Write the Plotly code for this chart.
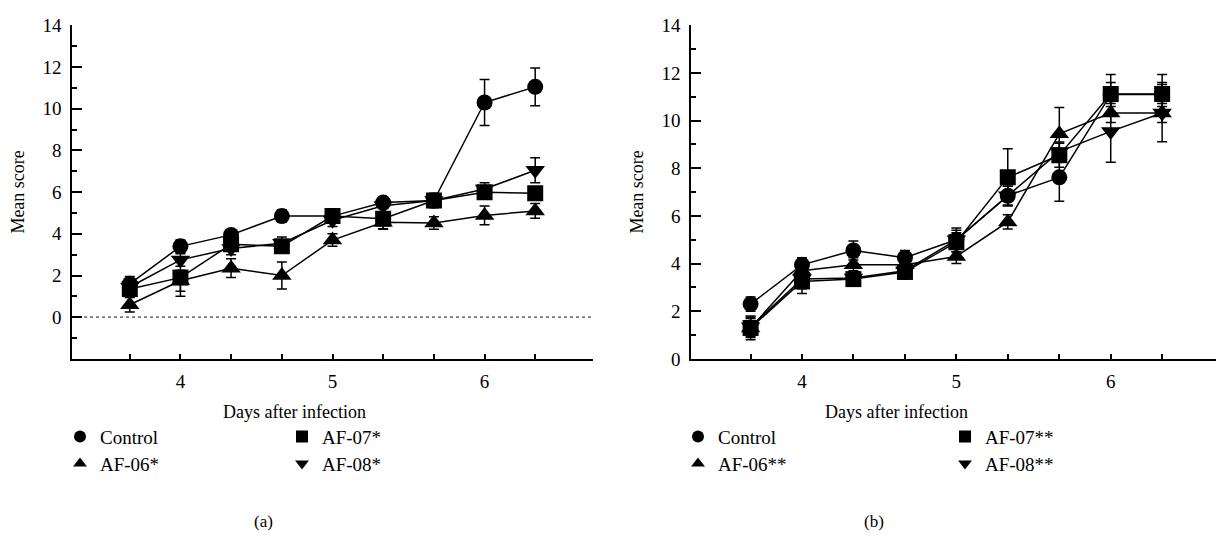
import plotly.graph_objects as go

# ---------------- data ----------------
days = [3.667, 4.0, 4.333, 4.667, 5.0, 5.333, 5.667, 6.0, 6.333]
day_tick_labels = ["", "4", "", "", "5", "", "", "6", ""]

# panel (a)
a_control = [1.6, 3.4, 3.95, 4.85, 4.85, 5.5, 5.6, 10.3, 11.05]
a_control_err = [0.35, 0.3, 0.2, 0.3, 0.2, 0.25, 0.2, 1.1, 0.9]
a_af06 = [0.6, 1.75, 2.35, 2.0, 3.7, 4.55, 4.52, 4.88, 5.1]
a_af06_err = [0.35, 0.5, 0.45, 0.65, 0.3, 0.3, 0.3, 0.45, 0.35]
a_af07 = [1.35, 1.9, 3.5, 3.4, 4.85, 4.72, 5.6, 6.0, 5.95]
a_af07_err = [0.3, 0.9, 0.3, 0.3, 0.3, 0.5, 0.35, 0.3, 0.3]
a_af08 = [1.45, 2.75, 3.3, 3.55, 4.65, 5.35, 5.6, 6.15, 7.05]
a_af08_err = [0.3, 0.3, 0.3, 0.3, 0.3, 0.3, 0.3, 0.3, 0.6]

# panel (b)
b_control = [2.3, 3.95, 4.55, 4.25, 5.0, 6.85, 7.62, 11.1, 11.1]
b_control_err = [0.3, 0.3, 0.4, 0.3, 0.5, 0.4, 1.0, 0.5, 0.5]
b_af06 = [1.3, 3.7, 3.95, 3.95, 4.3, 5.75, 9.45, 10.32, 10.32]
b_af06_err = [0.4, 0.4, 0.3, 0.3, 0.3, 0.3, 1.1, 0.4, 0.4]
b_af07 = [1.3, 3.25, 3.35, 3.65, 4.9, 7.62, 8.55, 11.12, 11.12]
b_af07_err = [0.5, 0.5, 0.3, 0.3, 0.4, 1.2, 0.5, 0.82, 0.82]
b_af08 = [1.35, 3.35, 3.4, 3.7, 5.0, 6.85, 8.7, 9.55, 10.32]
b_af08_err = [0.4, 0.4, 0.3, 0.3, 0.4, 0.4, 0.4, 1.3, 1.2]

a_names = ["Control", "AF-06*", "AF-07*", "AF-08*"]
b_names = ["Control", "AF-06**", "AF-07**", "AF-08**"]
y_ticks = [0, 2, 4, 6, 8, 10, 12, 14]
captions = ["(a)", "(b)"]
x_title = "Days after infection"
y_title = "Mean score"

# ---------------- layout helpers ----------------
W, H = 1216, 541
FONT = "Liberation Serif"
FS = 19


def fx(p):
    return p / W


def fy(p):
    return 1 - p / H


symbols = ["circle", "triangle-up", "square", "triangle-down"]
sizes = [16, 17, 16, 17]

fig = go.Figure()

panels = [
    (a_names, [a_control, a_af06, a_af07, a_af08],
     [a_control_err, a_af06_err, a_af07_err, a_af08_err], "x", "y", 0),
    (b_names, [b_control, b_af06, b_af07, b_af08],
     [b_control_err, b_af06_err, b_af07_err, b_af08_err], "x2", "y2", 4),
]

draw_order = [0, 1, 3, 2]  # squares drawn last (on top)

for names, series, errs, xa, ya, lg0 in panels:
    # lines first
    for i in range(4):
        fig.add_trace(go.Scatter(
            x=days, y=series[i], mode="lines", xaxis=xa, yaxis=ya,
            line=dict(color="black", width=1.5), showlegend=False,
            hoverinfo="skip"))
    # markers + error bars
    for i in draw_order:
        lg = lg0 + i + 1
        fig.add_trace(go.Scatter(
            x=days, y=series[i], mode="markers", xaxis=xa, yaxis=ya,
            name=names[i],
            marker=dict(symbol=symbols[i], size=sizes[i], color="black",
                        line=dict(width=0)),
            error_y=dict(type="data", array=errs[i], color="black",
                         thickness=1.5, width=5),
            legend="legend" if lg == 1 else f"legend{lg}",
            showlegend=True))

# legend positions (symbol center px, row anchor px)
leg_pos = {
    1: (80, 444), 3: (302, 444), 2: (80, 472), 4: (302, 472),
    5: (698, 444), 7: (965, 444), 6: (698, 472), 8: (965, 472),
}
for k, (cx, cy) in leg_pos.items():
    key = "legend" if k == 1 else f"legend{k}"
    fig.update_layout(**{key: dict(
        x=fx(cx - 20), y=fy(cy), xanchor="left", yanchor="middle",
        orientation="h", bgcolor="rgba(0,0,0,0)", borderwidth=0,
        itemsizing="constant", font=dict(family=FONT, size=FS, color="black"),
        tracegroupgap=0)})

axis_common = dict(showgrid=False, zeroline=False, showline=True,
                   linecolor="black", linewidth=1.5, ticks="inside",
                   tickcolor="black", tickwidth=1.5,
                   tickfont=dict(family=FONT, size=FS, color="black"))

ydom = [fy(363), fy(16)]
fig.update_layout(
    width=W, height=H, margin=dict(l=0, r=0, t=0, b=0),
    paper_bgcolor="white", plot_bgcolor="white",
    xaxis=dict(domain=[fx(72), fx(593)], range=[3.287, 6.713], anchor="y",
               tickmode="array", tickvals=days, ticktext=day_tick_labels,
               ticklen=5, ticklabelstandoff=5, **axis_common),
    yaxis=dict(domain=ydom, range=[-2, 14], anchor="x", tickmode="array",
               tickvals=y_ticks, ticklen=10, ticklabelstandoff=5,
               minor=dict(dtick=1, tick0=0, ticks="inside", ticklen=5,
                          tickwidth=1.5, tickcolor="black"),
               **axis_common),
    xaxis2=dict(domain=[fx(691), 1.0], range=[3.281, 6.682], anchor="y2",
                tickmode="array", tickvals=days, ticktext=day_tick_labels,
                ticklen=5, ticklabelstandoff=5, **axis_common),
    yaxis2=dict(domain=ydom, range=[0, 14], anchor="x2", tickmode="array",
                tickvals=y_ticks, ticklen=10, ticklabelstandoff=5,
                minor=dict(dtick=1, tick0=0, ticks="inside", ticklen=5,
                           tickwidth=1.5, tickcolor="black"),
                **axis_common),
    showlegend=True,
)

# dotted zero line in panel (a)
fig.add_shape(type="line", xref="x domain", yref="y", x0=0, x1=1, y0=0, y1=0,
              line=dict(color="#444444", width=1.2, dash="dot"), layer="below")

title_font = dict(family=FONT, size=18, color="black")
# axis titles
for cx, ycx in [(294, 18), (896, 637)]:
    fig.add_annotation(text=x_title, x=fx(cx), y=fy(418), xref="paper",
                       yref="paper", showarrow=False, font=title_font,
                       xanchor="center", yanchor="middle")
    fig.add_annotation(text=y_title, x=fx(ycx), y=fy(190), xref="paper",
                       yref="paper", showarrow=False, font=title_font,
                       textangle=-90, xanchor="center", yanchor="middle")
# panel captions
for cap, capx in zip(captions, [263, 874]):
    fig.add_annotation(text=cap, x=fx(capx), y=fy(532), xref="paper",
                       yref="paper", showarrow=False,
                       font=dict(family=FONT, size=17, color="black"),
                       xanchor="center", yanchor="middle")

fig.write_html("out.html")
